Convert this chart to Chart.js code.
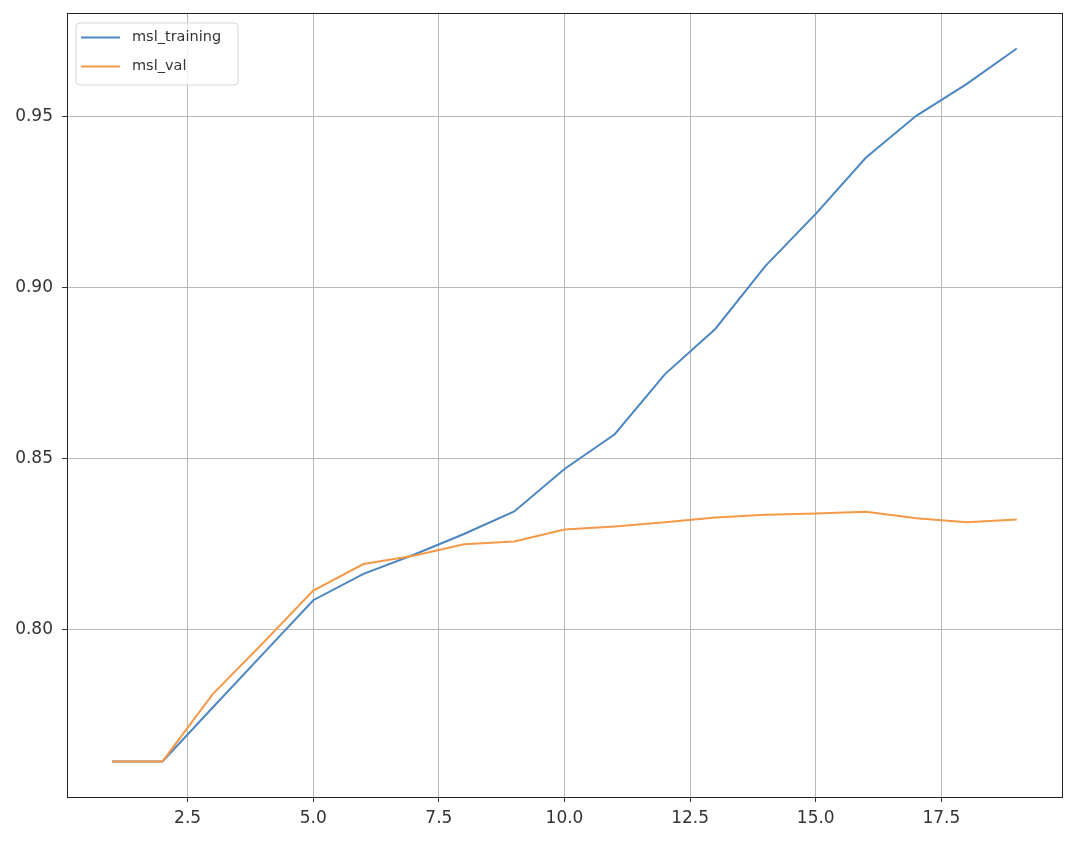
<!DOCTYPE html>
<html>
<head>
<meta charset="utf-8">
<script src="https://cdn.jsdelivr.net/npm/chart.js@4/dist/chart.umd.min.js"></script>
<style>
  html, body { margin: 0; padding: 0; background: #fff; }
  #wrap { width: 1076px; height: 842px; }
</style>
</head>
<body>
<div id="wrap"><canvas id="chart"></canvas></div>
<script>
const epochs = [1, 2, 3, 4, 5, 6, 7, 8, 9, 10, 11, 12, 13, 14, 15, 16, 17, 18, 19];
const mslTraining = [0.7613, 0.7613, 0.7771, 0.7928, 0.8085, 0.8162, 0.8218, 0.8279, 0.8345, 0.8469,
  0.8571, 0.8747, 0.8879, 0.9064, 0.9216, 0.9381, 0.9503, 0.9596, 0.9700];
const mslVal = [0.7613, 0.7613, 0.7810, 0.7960, 0.8113, 0.8191, 0.8215, 0.8249, 0.8257, 0.8292,
  0.8301, 0.8313, 0.8327, 0.8335, 0.8339, 0.8344, 0.8325, 0.8313, 0.8321];
const xTicks = [2.5, 5.0, 7.5, 10.0, 12.5, 15.0, 17.5];
const yTicks = [0.80, 0.85, 0.90, 0.95];

const FONT = "'DejaVu Sans', sans-serif";

// box round the plot, like matplotlib spines
const frame = {
  id: 'frame',
  afterDatasetsDraw(chart) {
    const a = chart.chartArea, ctx = chart.ctx;
    ctx.save();
    ctx.strokeStyle = '#222';
    ctx.lineWidth = 1;
    ctx.strokeRect(Math.round(a.left) + 0.5, Math.round(a.top) + 0.5,
      Math.round(a.right - a.left), Math.round(a.bottom - a.top));
    ctx.restore();
  }
};

// legend in the upper left corner, inside the axes
const innerLegend = {
  id: 'innerLegend',
  afterDraw(chart) {
    const a = chart.chartArea, ctx = chart.ctx;
    const x = a.left + 9, y = a.top + 10, w = 162, h = 62, r = 4;
    ctx.save();
    ctx.beginPath();
    ctx.moveTo(x + r, y);
    ctx.arcTo(x + w, y, x + w, y + h, r);
    ctx.arcTo(x + w, y + h, x, y + h, r);
    ctx.arcTo(x, y + h, x, y, r);
    ctx.arcTo(x, y, x + w, y, r);
    ctx.closePath();
    ctx.fillStyle = 'rgba(255,255,255,0.8)';
    ctx.fill();
    ctx.strokeStyle = '#d6d6d6';
    ctx.lineWidth = 1;
    ctx.stroke();
    ctx.font = '14.5px ' + FONT;
    ctx.textBaseline = 'middle';
    chart.data.datasets.forEach((ds, i) => {
      const cy = y + 14.5 + i * 29;
      ctx.strokeStyle = ds.borderColor;
      ctx.lineWidth = 2;
      ctx.beginPath();
      ctx.moveTo(x + 5, cy);
      ctx.lineTo(x + 44, cy);
      ctx.stroke();
      ctx.fillStyle = '#333';
      ctx.fillText(ds.label, x + 56, cy);
    });
    ctx.restore();
  }
};

const data = {
  datasets: [{
    label: 'msl_training',
    data: epochs.map((e, i) => ({ x: e, y: mslTraining[i] })),
    borderColor: 'rgb(76, 134, 193)',
    borderWidth: 2,
    pointRadius: 0,
    tension: 0,
    order: 2,
  }, {
    label: 'msl_val',
    data: epochs.map((e, i) => ({ x: e, y: mslVal[i] })),
    borderColor: 'rgb(245, 153, 72)',
    borderWidth: 2,
    pointRadius: 0,
    tension: 0,
    order: 1,
  }]
};

const config = {
  type: 'line',
  data: data,
  options: {
    responsive: true,
    maintainAspectRatio: false,
    animation: false,
    layout: { padding: { left: 0, right: 14, top: 13, bottom: 0 } },
    plugins: {
      legend: { display: false },
      tooltip: { enabled: false },
    },
    scales: {
      x: {
        type: 'linear',
        min: 0.1,
        max: 19.9,
        afterBuildTicks: (axis) => { axis.ticks = xTicks.map(v => ({ value: v })); },
        afterFit: (scale) => {
          scale.height = 45;
          scale.paddingLeft = 0;
          scale.paddingRight = 0;
        },
        grid: { color: '#b8b8b8', lineWidth: 1, tickLength: 5, tickColor: '#333' },
        border: { color: '#222', width: 1 },
        ticks: {
          padding: 6,
          color: '#333',
          font: { family: FONT, size: 17 },
          callback: (v) => Number(v).toFixed(1),
        },
      },
      y: {
        type: 'linear',
        min: 0.7509,
        max: 0.9804,
        afterBuildTicks: (axis) => { axis.ticks = yTicks.map(v => ({ value: v })); },
        afterFit: (scale) => {
          scale.width = 67;
          scale.paddingTop = 0;
          scale.paddingBottom = 0;
        },
        grid: { color: '#b8b8b8', lineWidth: 1, tickLength: 5, tickColor: '#333' },
        border: { color: '#222', width: 1 },
        ticks: {
          padding: 9,
          color: '#333',
          font: { family: FONT, size: 17 },
          callback: (v) => Number(v).toFixed(2),
        },
      },
    },
  },
  plugins: [frame, innerLegend],
};

new Chart(document.getElementById('chart'), config);
</script>
</body>
</html>
